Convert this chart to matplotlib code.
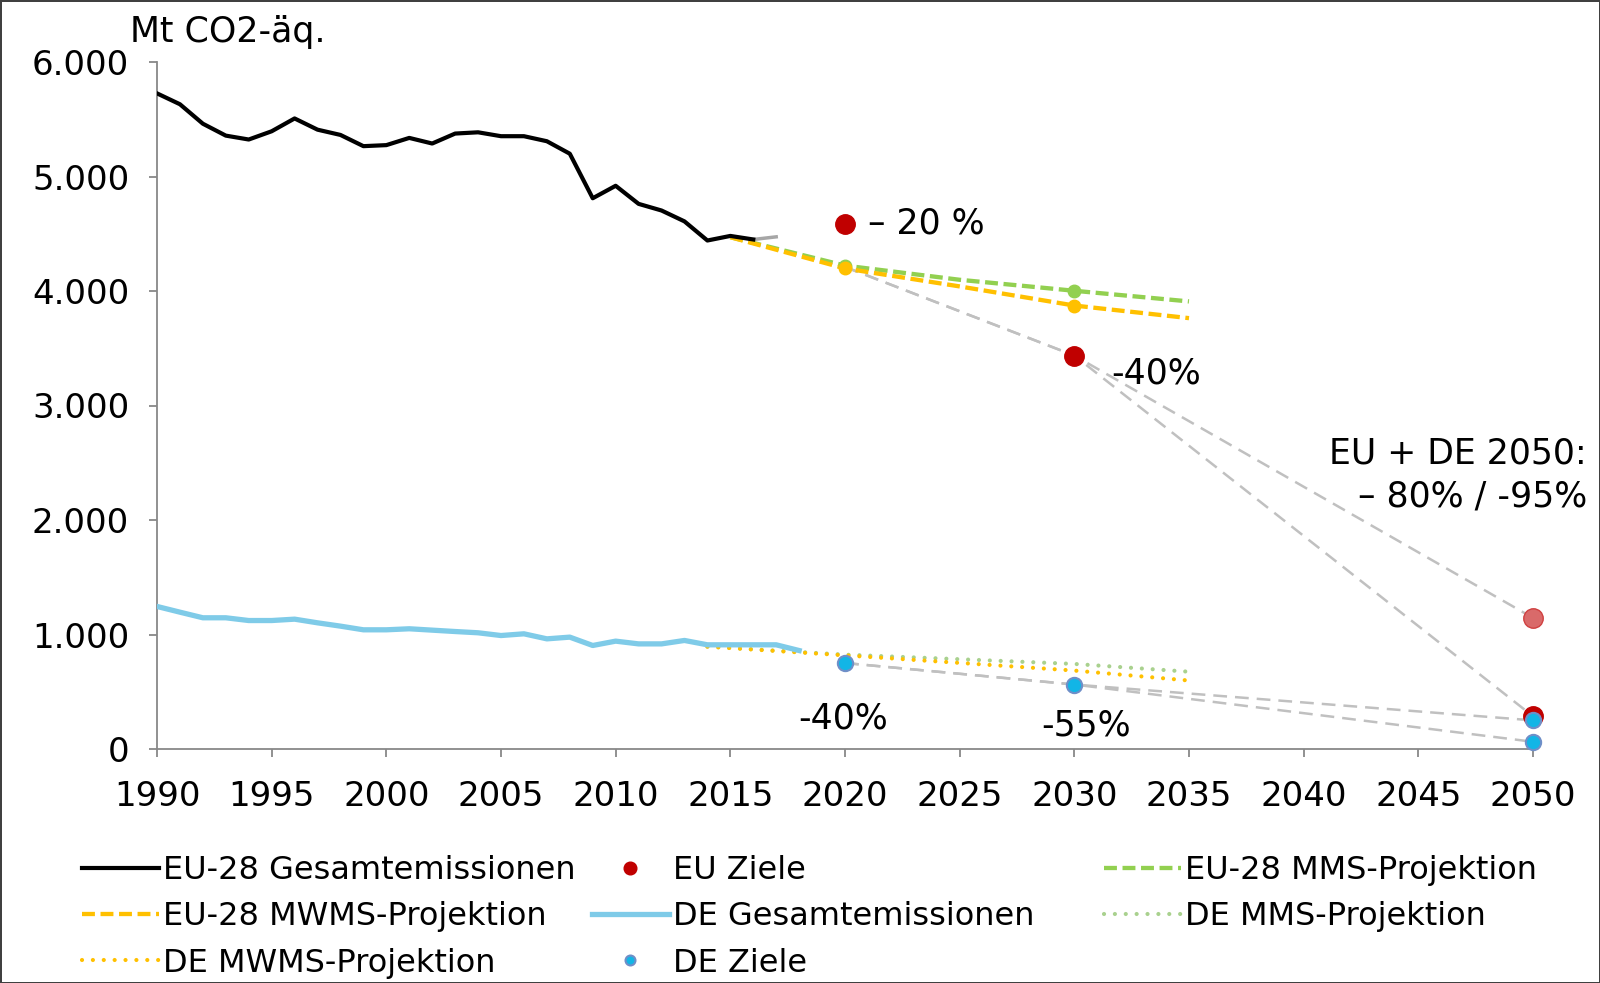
import numpy as np
import matplotlib
matplotlib.use("Agg")
import matplotlib.pyplot as plt
from matplotlib.lines import Line2D

# EU-28 total emissions (Mt CO2-eq), 1990-2016, proxy 2016-2017
eu_years = list(range(1990, 2017))
eu_total = [5726, 5631, 5461, 5357, 5323, 5395, 5507, 5409, 5363, 5265,
            5274, 5337, 5288, 5375, 5386, 5352, 5352, 5308, 5199, 4810,
            4919, 4761, 4703, 4608, 4441, 4481, 4450]
eu_proxy_years = [2016, 2017]
eu_proxy = [4450, 4473]

# EU-28 projections
proj_years = [2015, 2020, 2025, 2030, 2035]
eu_mms = [4470, 4222, 4098, 4002, 3909]
eu_mwms = [4470, 4197, 4040, 3873, 3763]
marker_years = [2020, 2030]
eu_mms_pts = [4222, 4002]
eu_mwms_pts = [4197, 3873]

# DE total emissions 1990-2018
de_years = list(range(1990, 2019))
de_total = [1245, 1195, 1146, 1146, 1122, 1122, 1134, 1102, 1073, 1041,
            1041, 1050, 1038, 1026, 1015, 991, 1006, 962, 977, 904,
            942, 918, 918, 948, 910, 910, 910, 910, 860]

# DE projections
de_proj_years = [2014, 2020, 2025, 2030, 2035]
de_mms = [894, 824, 784, 743, 675]
de_mwms = [894, 818, 752, 685, 598]

# targets
eu_goal_years = [2020, 2030, 2050]
eu_goals = [4582, 3436, 286]
eu_goal_80 = 1145
de_goal_years = [2020, 2030, 2050, 2050]
de_goals = [751, 563, 250, 63]

# target paths (grey dashed)
path_years = [2020, 2030, 2050]
eu_path_a = [4210, 3436, 1145]
eu_path_b = [4210, 3436, 286]
de_path_a = [751, 563, 250]
de_path_b = [751, 563, 63]

yticks = [0, 1000, 2000, 3000, 4000, 5000, 6000]
ytick_labels = ["0", "1.000", "2.000", "3.000", "4.000", "5.000", "6.000"]
xticks = list(range(1990, 2051, 5))

RED = "#c00000"
BLUE = "#12b5e6"
GREEN = "#92d050"
LGREEN = "#a9d18e"
YELLOW = "#ffc000"
DEBLUE = "#7fcbe8"
GREY = "#c0c0c0"

plt.rcParams["font.family"] = ["DejaVu Sans"]
fs_tick = 24.5
fs_ann = 25
fs_leg = 23

fig = plt.figure(figsize=(16, 9.83), dpi=100, edgecolor="#404040", linewidth=2)
ax = fig.add_axes([157 / 1600, 1 - 749 / 983, (1533 - 157) / 1600, (749 - 62) / 983])

dash_grey = (0, (5.5, 3.2))
dash_proj = (0, (3, 1.3))
dots = (0, (0.01, 2.6))

# grey target paths
for ys in (eu_path_a, eu_path_b, de_path_a, de_path_b):
    ax.plot(path_years, ys, color=GREY, lw=1.8, ls=dash_grey, zorder=2)

# EU lines
l_eu, = ax.plot(eu_years, eu_total, color="black", lw=3, zorder=4)
ax.plot(eu_proxy_years, eu_proxy, color="#a6a6a6", lw=2.5, zorder=3)
l_mms, = ax.plot(proj_years, eu_mms, color=GREEN, lw=3.1, ls=dash_proj, zorder=3)
l_mwms, = ax.plot(proj_years, eu_mwms, color=YELLOW, lw=3.1, ls=dash_proj, zorder=3)
ax.plot(marker_years, eu_mms_pts, "o", color=GREEN, ms=9, zorder=4)
ax.plot(marker_years, eu_mwms_pts, "o", color=YELLOW, ms=9, zorder=4)

# DE lines
l_de, = ax.plot(de_years, de_total, color=DEBLUE, lw=3.8, zorder=4)
l_demms, = ax.plot(de_proj_years, de_mms, color=LGREEN, lw=3, ls=dots,
                   dash_capstyle="round", zorder=3)
l_demwms, = ax.plot(de_proj_years, de_mwms, color=YELLOW, lw=3, ls=dots,
                    dash_capstyle="round", zorder=3)

# targets
l_eug, = ax.plot(eu_goal_years, eu_goals, "o", color=RED, ms=14, zorder=5, clip_on=False)
ax.plot([2050], [eu_goal_80], "o", color="#d96a6a", mec="#d04040", ms=14, zorder=5,
        clip_on=False)
l_deg, = ax.plot(de_goal_years, de_goals, "o", color=BLUE, mec="#6f8fc8", mew=1.5, ms=11,
                 zorder=6, clip_on=False)

# annotations
ax.text(2021.0, 4590, "– 20 %", fontsize=fs_ann, va="center", ha="left")
ax.text(2031.6, 3281, "-40%", fontsize=fs_ann, va="center", ha="left")
ax.text(2019.9, 267, "-40%", fontsize=fs_ann, va="center", ha="center")
ax.text(2030.5, 205, "-55%", fontsize=fs_ann, va="center", ha="center")
fig.text(1587 / 1600, 1 - 453 / 983, "EU + DE 2050:", fontsize=fs_ann, ha="right", va="center")
fig.text(1587 / 1600, 1 - 497 / 983, "– 80% / -95%", fontsize=fs_ann, ha="right", va="center")
fig.text(130 / 1600, 1 - 32 / 983, "Mt CO2-äq.", fontsize=fs_ann, ha="left", va="center")

ax.set_xlim(1990, 2050)
ax.set_ylim(0, 6000)
ax.set_xticks(xticks)
ax.set_yticks(yticks)
ax.set_yticklabels(ytick_labels)
ax.tick_params(axis="both", labelsize=fs_tick, color="#888888", length=6, width=1.3,
               direction="out")
ax.tick_params(axis="y", pad=14)
ax.tick_params(axis="x", pad=16)
for s in ("top", "right"):
    ax.spines[s].set_visible(False)
for s in ("left", "bottom"):
    ax.spines[s].set_color("#888888")
    ax.spines[s].set_linewidth(1.3)

# legend laid out in three columns
cols = [
    ([l_eu, l_mwms, l_demwms],
     ["EU-28 Gesamtemissionen", "EU-28 MWMS-Projektion", "DE MWMS-Projektion"], 82),
    ([l_eug, l_de, l_deg],
     ["EU Ziele", "DE Gesamtemissionen", "DE Ziele"], 592),
    ([l_mms, l_demms],
     ["EU-28 MMS-Projektion", "DE MMS-Projektion"], 1104),
]
for handles, labels, x0 in cols:
    fig.legend(handles, labels, loc="upper left",
               bbox_to_anchor=(x0 / 1600, 1 - 855 / 983),
               frameon=False, fontsize=fs_leg, handlelength=2.4, handletextpad=0.15,
               labelspacing=0.48, borderpad=0, borderaxespad=0, markerscale=0.65)

fig.savefig("out.png", dpi=100, edgecolor=fig.get_edgecolor())
